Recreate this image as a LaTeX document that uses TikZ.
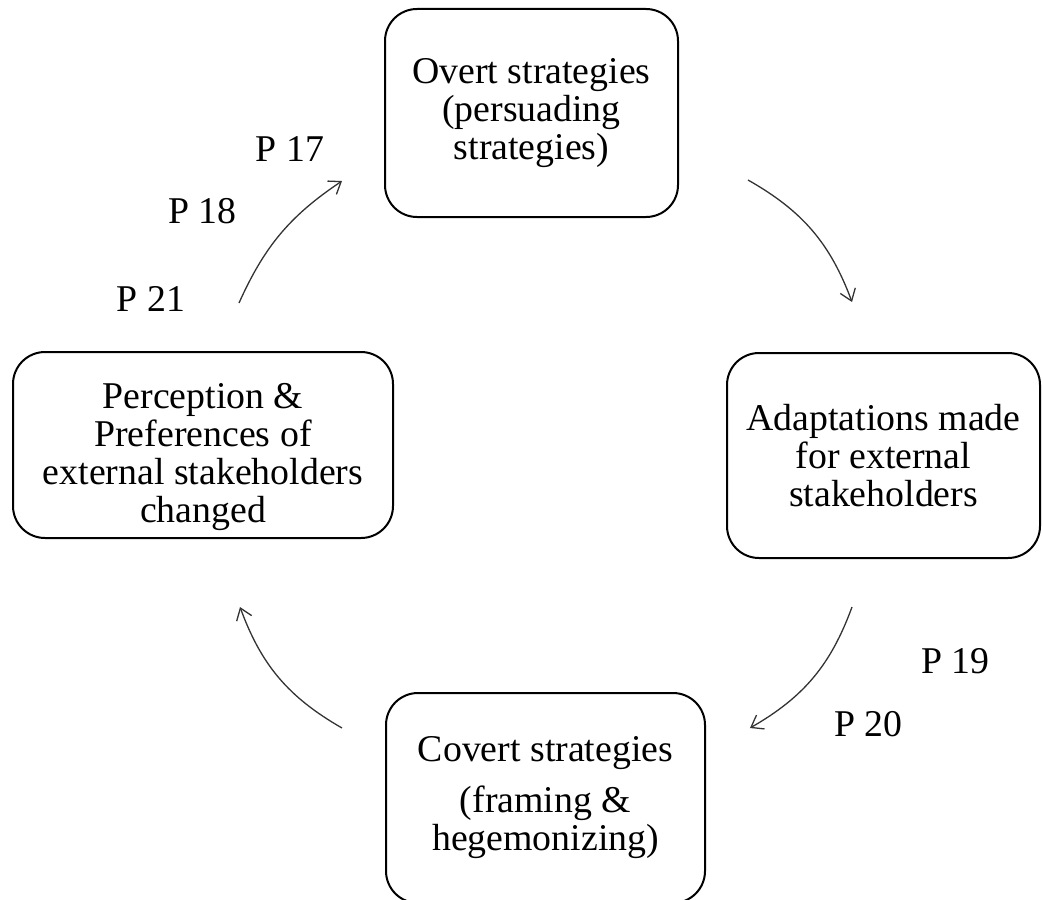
\documentclass[tikz,border=0pt]{standalone}
\usepackage{fontspec}
\setmainfont{Liberation Serif}
\usetikzlibrary{arrows.meta}

\tikzset{
  stagebox/.style={draw=black, line width=1pt, rounded corners=16pt,
    align=center, inner sep=0pt, font=\fontsize{18.9}{19}\selectfont},
  plabel/.style={anchor=base, inner sep=0pt, font=\fontsize{18.9}{19}\selectfont},
  cycle arrow/.style={draw=black!80, line width=0.65pt,
    -{Straight Barb[length=5.5pt,width=8pt,line width=0.65pt]}},
}

\begin{document}
\begin{tikzpicture}[x=0.5pt, y=0.5pt]
  \useasboundingbox (0,0) rectangle (1042,-899);
  \clip (0,0) rectangle (1042,-899);

  % the four stages of the cycle
  \node[stagebox, minimum width=146.5pt, minimum height=104pt] (overt) at (531.5,-113)
    {Overt strategies\\(persuading\\strategies)};
  \node[stagebox, minimum width=156.5pt, minimum height=102.5pt] (adapt) at (883.5,-455.5)
    {Adaptations made\\for external\\stakeholders};
  \node[stagebox, minimum width=159.5pt, minimum height=105pt] (covert) at (545.5,-798)
    {Covert strategies\\[6.5pt](framing \&\\hegemonizing)};
  \node[stagebox, minimum width=190pt, minimum height=93pt] (percep) at (203,-445)
    {\raisebox{-6.5pt}[\height][\depth]{\begin{tabular}{@{}c@{}}Perception \&\\Preferences of\\external stakeholders\\changed\end{tabular}}};

  % arrow end points between the stages
  \coordinate (a1s) at (239,-303);
  \coordinate (a1e) at (342,-181);
  \coordinate (a2s) at (748,-180);
  \coordinate (a2e) at (852,-302);
  \coordinate (a3s) at (852,-607);
  \coordinate (a3e) at (750,-728);
  \coordinate (a4s) at (342,-728);
  \coordinate (a4e) at (240,-607);

  \draw[cycle arrow] (a1s) to[bend left=16] (a1e);
  \draw[cycle arrow] (a2s) to[bend left=20] (a2e);
  \draw[cycle arrow] (a3s) to[bend left=20] (a3e);
  \draw[cycle arrow] (a4s) to[bend left=20] (a4e);

  % proposition labels
  \node[plabel] (p17) at (290,-161) {P 17};
  \node[plabel] (p18) at (202.5,-223) {P 18};
  \node[plabel] (p21) at (151,-311) {P 21};
  \node[plabel] (p19) at (955.5,-673) {P 19};
  \node[plabel] (p20) at (868.5,-736) {P 20};
\end{tikzpicture}
\end{document}
